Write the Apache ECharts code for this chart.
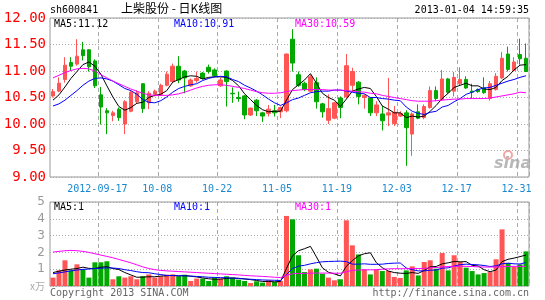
<!DOCTYPE html>
<html><head><meta charset="utf-8">
<script src="https://cdn.jsdelivr.net/npm/echarts@6/dist/echarts.min.js"></script>
<style>html,body{margin:0;padding:0;background:#fff}#c{width:545px;height:300px}</style>
</head><body><div id="c"></div>
<script>
const dates = ['2012-09-05','2012-09-06','2012-09-07','2012-09-10','2012-09-11','2012-09-12','2012-09-13','2012-09-14','2012-09-17','2012-09-18',
'2012-09-19','2012-09-20','2012-09-21','2012-09-24','2012-09-25','2012-09-26','2012-09-27','2012-09-28','2012-10-08','2012-10-09',
'2012-10-10','2012-10-11','2012-10-12','2012-10-15','2012-10-16','2012-10-17','2012-10-18','2012-10-19','2012-10-22','2012-10-23',
'2012-10-24','2012-10-25','2012-10-26','2012-10-29','2012-10-30','2012-10-31','2012-11-01','2012-11-02','2012-11-05','2012-11-06',
'2012-11-07','2012-11-08','2012-11-09','2012-11-12','2012-11-13','2012-11-14','2012-11-15','2012-11-16','2012-11-19','2012-11-20',
'2012-11-21','2012-11-22','2012-11-23','2012-11-26','2012-11-27','2012-11-28','2012-11-29','2012-11-30','2012-12-03','2012-12-04',
'2012-12-05','2012-12-06','2012-12-07','2012-12-10','2012-12-11','2012-12-12','2012-12-13','2012-12-14','2012-12-17','2012-12-18',
'2012-12-19','2012-12-20','2012-12-21','2012-12-24','2012-12-25','2012-12-26','2012-12-27','2012-12-28','2012-12-31','2013-01-04'];

const openP = [10.53,10.62,10.84,11.16,11.13,11.40,11.40,11.19,10.55,10.25,
10.16,10.28,10.00,10.24,10.42,10.76,10.40,10.56,10.56,10.73,
10.80,11.09,11.00,10.72,10.82,10.96,11.07,11.02,10.72,11.00,
10.58,10.50,10.53,10.17,10.45,10.21,10.20,10.25,10.23,10.25,
11.60,10.93,10.77,10.62,10.78,10.38,10.07,10.11,10.49,10.51,
10.73,10.79,10.50,10.49,10.21,10.19,10.17,10.01,10.15,10.21,
9.81,10.23,10.12,10.31,10.63,10.46,10.85,10.62,10.76,10.84,
10.62,10.65,10.68,10.48,10.65,10.87,11.32,11.01,11.31,11.24];
const closeP = [10.61,10.77,11.11,11.09,11.28,11.29,11.08,10.72,10.32,10.21,
10.21,10.12,10.42,10.60,10.59,10.29,10.58,10.62,10.73,10.94,
11.09,10.83,10.87,10.83,10.86,10.86,10.99,10.91,10.83,10.80,
10.57,10.48,10.17,10.30,10.25,10.15,10.28,10.21,10.31,11.32,
11.15,10.73,10.65,10.89,10.42,10.23,10.29,10.40,10.31,11.10,
10.99,10.52,10.54,10.21,10.36,10.06,10.21,10.22,10.20,9.93,
10.19,10.11,10.33,10.63,10.48,10.85,10.60,10.88,10.84,10.68,
10.60,10.61,10.59,10.76,10.90,11.24,11.03,11.17,11.23,10.99];
const highP = [10.66,10.88,11.26,11.26,11.60,11.55,11.41,11.22,10.70,10.30,
10.25,10.31,10.45,10.63,10.64,10.77,10.62,10.65,10.76,10.99,
11.14,11.28,11.02,10.86,10.99,10.98,11.12,11.05,10.88,11.01,
10.69,10.61,10.55,10.31,10.47,10.23,10.36,10.36,10.33,11.33,
11.79,10.99,10.80,10.93,10.88,10.40,10.56,10.42,10.52,11.32,
11.06,10.81,10.56,10.51,10.43,10.34,10.87,10.34,10.24,10.26,
10.22,10.37,10.37,10.71,10.71,11.02,10.87,10.98,11.07,10.90,
10.76,10.67,10.88,10.81,10.96,11.36,11.46,11.26,11.61,11.52];
const lowP = [10.50,10.60,10.78,11.00,11.10,11.20,10.99,10.68,9.99,9.81,
10.05,10.06,9.81,10.22,10.38,10.21,10.28,10.52,10.53,10.71,
10.78,10.77,10.58,10.70,10.78,10.84,10.95,10.88,10.70,10.33,
10.40,10.42,10.09,10.15,10.15,10.04,10.14,10.14,10.11,10.22,
10.99,10.70,10.62,10.60,10.29,10.12,10.00,10.09,10.11,10.49,
10.62,10.37,10.29,10.15,10.15,9.88,9.96,9.96,10.13,9.21,
9.40,10.09,10.09,10.29,10.43,10.44,10.57,10.52,10.73,10.66,
10.48,10.59,10.57,10.44,10.63,10.85,10.99,10.99,11.12,10.98];

const ma5 = [10.45,10.55,10.70,10.86,10.99,11.12,11.17,11.09,10.94,10.72,
10.51,10.33,10.26,10.31,10.39,10.41,10.50,10.54,10.56,10.63,
10.79,10.84,10.89,10.91,10.90,10.85,10.88,10.89,10.89,10.88,
10.82,10.72,10.57,10.46,10.35,10.27,10.23,10.24,10.24,10.45,
10.65,10.74,10.83,10.95,10.77,10.58,10.50,10.45,10.33,10.47,
10.62,10.66,10.69,10.67,10.52,10.34,10.28,10.21,10.21,10.12,
10.15,10.13,10.15,10.24,10.35,10.48,10.58,10.69,10.73,10.77,
10.72,10.72,10.66,10.65,10.69,10.82,10.90,11.02,11.11,11.12];
const ma10 = [10.34,10.38,10.45,10.54,10.63,10.73,10.81,10.86,10.87,10.85,
10.81,10.74,10.67,10.63,10.56,10.46,10.41,10.40,10.44,10.51,
10.60,10.67,10.71,10.74,10.76,10.82,10.86,10.89,10.90,10.89,
10.84,10.80,10.73,10.68,10.62,10.55,10.47,10.40,10.35,10.40,
10.46,10.49,10.54,10.59,10.61,10.62,10.62,10.64,10.64,10.62,
10.60,10.58,10.57,10.50,10.50,10.48,10.47,10.45,10.44,10.32,
10.24,10.20,10.18,10.22,10.24,10.32,10.35,10.42,10.48,10.56,
10.60,10.65,10.68,10.69,10.73,10.77,10.81,10.84,10.88,10.91];
const ma30 = [10.87,10.92,10.97,11.01,11.04,11.05,11.04,11.00,10.93,10.87,
10.81,10.76,10.71,10.66,10.62,10.58,10.55,10.54,10.54,10.54,
10.55,10.57,10.60,10.64,10.68,10.71,10.73,10.74,10.74,10.73,
10.71,10.69,10.67,10.64,10.61,10.59,10.58,10.58,10.59,10.61,
10.63,10.64,10.65,10.65,10.65,10.65,10.64,10.64,10.64,10.63,
10.62,10.61,10.60,10.58,10.57,10.54,10.52,10.50,10.48,10.46,
10.44,10.43,10.43,10.43,10.44,10.45,10.46,10.47,10.47,10.48,
10.48,10.48,10.48,10.49,10.51,10.53,10.55,10.57,10.60,10.59];

const volume = [0.50,0.93,1.53,0.93,1.29,0.99,0.50,1.41,1.41,1.47,
0.40,0.58,0.50,0.58,0.40,0.58,0.69,0.50,0.58,0.67,
0.69,0.58,0.67,0.30,0.44,0.44,0.30,0.50,0.44,0.58,
0.50,0.38,0.30,0.18,0.28,0.20,0.34,0.24,0.30,4.17,
3.97,1.83,0.83,0.99,1.03,0.73,0.50,0.34,0.40,3.91,
2.42,1.88,0.99,0.69,0.99,0.89,0.89,0.54,0.48,0.93,
1.17,0.63,1.43,1.53,1.03,1.96,0.93,1.83,1.43,1.09,
0.89,0.69,0.77,0.83,1.59,3.37,1.37,1.13,1.29,2.06];
const volMa5 = [0.80,0.88,0.95,1.00,1.04,1.12,1.05,1.04,1.12,1.15,
1.04,0.98,0.80,0.66,0.52,0.53,0.55,0.55,0.59,0.61,
0.63,0.60,0.62,0.58,0.54,0.48,0.43,0.40,0.41,0.45,
0.47,0.46,0.42,0.38,0.33,0.27,0.27,0.25,0.27,1.05,
1.80,2.10,2.22,2.36,1.73,1.08,0.82,0.72,0.60,1.18,
1.51,1.79,1.92,1.98,1.39,1.09,0.89,0.80,0.76,0.75,
0.80,0.75,0.93,1.14,1.16,1.32,1.38,1.46,1.44,1.45,
1.23,1.19,0.97,0.85,0.95,1.45,1.59,1.66,1.75,1.84];
const volMa10 = [0.73,0.78,0.84,0.90,0.95,0.99,1.01,1.04,1.06,1.08,
1.07,1.04,0.97,0.92,0.85,0.80,0.79,0.73,0.68,0.63,
0.62,0.61,0.61,0.59,0.57,0.55,0.52,0.51,0.50,0.49,
0.47,0.45,0.42,0.40,0.38,0.36,0.35,0.34,0.33,0.69,
1.04,1.18,1.23,1.32,1.39,1.44,1.46,1.47,1.48,1.45,
1.30,1.30,1.32,1.29,1.29,1.30,1.34,1.36,1.37,1.07,
0.97,0.90,0.90,0.94,0.95,1.06,1.08,1.19,1.27,1.30,
1.28,1.26,1.22,1.16,1.20,1.32,1.36,1.32,1.31,1.40];
const volMa30 = [2.02,2.06,2.10,2.12,2.10,2.06,2.00,1.92,1.84,1.76,
1.68,1.58,1.48,1.38,1.26,1.14,1.04,0.97,0.93,0.90,
0.88,0.86,0.84,0.82,0.80,0.78,0.76,0.74,0.72,0.70,
0.68,0.66,0.63,0.61,0.59,0.57,0.55,0.52,0.50,0.63,
0.73,0.75,0.75,0.76,0.77,0.77,0.77,0.76,0.76,0.85,
0.93,0.95,0.96,0.96,0.97,1.00,1.02,1.03,1.03,1.03,
1.04,1.04,1.05,1.08,1.10,1.14,1.16,1.17,1.18,1.17,
1.16,1.14,1.13,1.13,1.13,1.15,1.16,1.17,1.17,1.17];

const tickDates = ['2012-09-17','2012-10-08','2012-10-22','2012-11-05','2012-11-19','2012-12-03','2012-12-17','2012-12-31'];
const tickLabels = ['2012-09-17','10-08','10-22','11-05','11-19','12-03','12-17','12-31'];

const RED = '#ff5555', GREEN = '#00a800';
const MONO = '"DejaVu Sans Mono", monospace';
const isTick = (i, v) => tickDates.indexOf(v) >= 0;
const dashed = { color: '#aaa', type: [4, 3], width: 1 };
const dotted = { color: '#aaa', type: [1, 2], width: 1 };

const kData = dates.map((d, i) => [openP[i], closeP[i], lowP[i], highP[i]]);
const volData = volume.map((v, i) => ({ value: v, itemStyle: { color: closeP[i] >= openP[i] ? RED : GREEN } }));

function lineS(data, color, idx) {
  return { type: 'line', data: data, xAxisIndex: idx, yAxisIndex: idx, symbol: 'none',
    lineStyle: { color: color, width: 1 }, itemStyle: { color: color }, z: 5, silent: true };
}
function txt(opts, text, color, font) {
  return Object.assign({ type: 'text', silent: true, style: { text: text, fill: color, font: font } }, opts);
}

const chart = echarts.init(document.getElementById('c'), null, { renderer: 'canvas' });
chart.setOption({
  animation: false,
  backgroundColor: '#fff',
  grid: [
    { left: 50, top: 18, width: 479, height: 159, show: true, borderColor: '#999', borderWidth: 1, backgroundColor: 'transparent' },
    { left: 50, top: 202, width: 479, height: 84, show: true, borderColor: '#999', borderWidth: 1, backgroundColor: 'transparent' }
  ],
  xAxis: [
    { type: 'category', data: dates, gridIndex: 0, boundaryGap: true,
      axisLine: { show: false }, axisTick: { show: false },
      axisLabel: { interval: isTick, formatter: v => tickLabels[tickDates.indexOf(v)] || '',
        color: '#1a88d0', fontFamily: MONO, fontSize: 10, margin: 7, padding: [0, 7, 0, 0] },
      splitLine: { show: true, interval: isTick, lineStyle: dashed } },
    { type: 'category', data: dates, gridIndex: 1, boundaryGap: true,
      axisLine: { show: false }, axisTick: { show: false }, axisLabel: { show: false },
      splitLine: { show: true, interval: isTick, lineStyle: dashed } }
  ],
  yAxis: [
    { type: 'value', gridIndex: 0, min: 9, max: 12, interval: 0.5, scale: true,
      axisLine: { show: false }, axisTick: { show: false },
      axisLabel: { formatter: v => v.toFixed(2), color: '#ff0000', fontFamily: MONO, fontSize: 14, margin: 4 },
      splitLine: { show: true, lineStyle: dotted } },
    { type: 'value', gridIndex: 1, min: 0, max: 5, interval: 1,
      axisLine: { show: false }, axisTick: { show: false },
      axisLabel: { formatter: v => v === 0 ? '' : String(v), color: '#999', fontFamily: '"DejaVu Sans", sans-serif', fontSize: 12, margin: 5 },
      splitLine: { show: true, lineStyle: dotted } }
  ],
  series: [
    { type: 'candlestick', data: kData, xAxisIndex: 0, yAxisIndex: 0, barWidth: 4, silent: true,
      itemStyle: { color: RED, color0: GREEN, borderColor: RED, borderColor0: GREEN, borderWidth: 1 } },
    lineS(ma5, '#000000', 0), lineS(ma10, '#0000ff', 0), lineS(ma30, '#ff00ff', 0),
    { type: 'bar', data: volData, xAxisIndex: 1, yAxisIndex: 1, barWidth: 5, silent: true },
    lineS(volMa5, '#000000', 1), lineS(volMa10, '#0000ff', 1), lineS(volMa30, '#ff00ff', 1)
  ],
  graphic: [
    txt({ left: 50, top: 5 }, 'sh600841', '#000', '10px ' + MONO),
    txt({ left: 121, top: 2 }, '上柴股份 - 日K线图', '#000', '12px "Noto Sans CJK SC"'),
    txt({ right: 16, top: 5 }, '2013-01-04 14:59:35', '#000', '10px ' + MONO),
    txt({ left: 54, top: 19 }, 'MA5:11.12', '#000', '10px ' + MONO),
    txt({ left: 174, top: 19 }, 'MA10:10.91', '#0000ff', '10px ' + MONO),
    txt({ left: 295, top: 19 }, 'MA30:10.59', '#ff00ff', '10px ' + MONO),
    txt({ left: 54, top: 202 }, 'MA5:1', '#000', '10px ' + MONO),
    txt({ left: 174, top: 202 }, 'MA10:1', '#0000ff', '10px ' + MONO),
    txt({ left: 295, top: 202 }, 'MA30:1', '#ff00ff', '10px ' + MONO),
    txt({ left: 30, top: 281 }, 'x万', '#aaa', '10px "Noto Sans CJK SC"'),
    txt({ left: 50, top: 288 }, 'Copyright 2013 SINA.COM', '#666', '10px ' + MONO),
    txt({ right: 16, top: 288 }, 'http://finance.sina.com.cn', '#666', '10px ' + MONO),
    { type: 'circle', silent: true, shape: { cx: 508, cy: 155, r: 4 }, style: { fill: 'none', stroke: '#f5a5a5', lineWidth: 2 } },
    txt({ left: 494, top: 156 }, 'sina', '#b8b8b8', 'italic bold 16px "DejaVu Sans"')
  ]
});
</script></body></html>
